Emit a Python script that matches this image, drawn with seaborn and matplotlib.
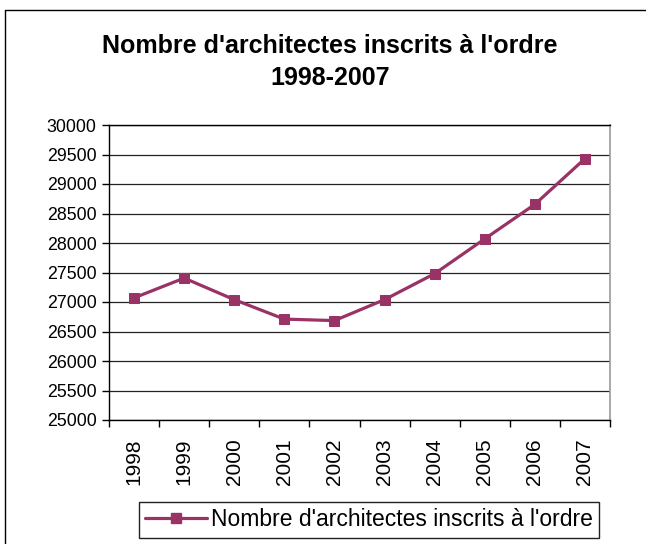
import matplotlib
matplotlib.use("Agg")
import matplotlib.pyplot as plt
import seaborn as sns
import pandas as pd
from matplotlib.lines import Line2D

years = ["1998", "1999", "2000", "2001", "2002", "2003", "2004", "2005", "2006", "2007"]
inscrits = [27070, 27405, 27040, 26710, 26685, 27040, 27480, 28070, 28655, 29430]
series_name = "Nombre d'architectes inscrits à l'ordre"
title = "Nombre d'architectes inscrits à l'ordre\n1998-2007"
yticks = [25000, 25500, 26000, 26500, 27000, 27500, 28000, 28500, 29000, 29500, 30000]

sns.set_style("white")
plt.rcParams['font.family'] = ['Liberation Sans', 'DejaVu Sans']
plt.rcParams['text.color'] = 'black'
plt.rcParams['xtick.color'] = 'black'
plt.rcParams['ytick.color'] = 'black'
plt.rcParams['xtick.labelcolor'] = 'black'
plt.rcParams['ytick.labelcolor'] = 'black'

df = pd.DataFrame({"year": years, "value": inscrits})
color = "#993366"

fig = plt.figure(figsize=(6.46, 5.44), dpi=100)
ax = fig.add_axes([109/646, 1-420/544, (610-109)/646, (420-125)/544])

sns.lineplot(data=df, x="year", y="value", ax=ax, color=color, linewidth=2.3,
             marker="s", markersize=7, markeredgecolor=color, label=series_name)

ax.set_xlim(-0.5, len(years) - 0.5)
ax.set_ylim(25000, 30000)
ax.set_yticks(yticks)
ax.set_yticklabels([str(v) for v in yticks], fontsize=12.8, color="black")
ax.set_xticks(range(len(years)))
ax.set_xticklabels(years, rotation=90, fontsize=15, color="black")
ax.set_xticks([i - 0.5 for i in range(len(years) + 1)], minor=True)
ax.tick_params(axis="x", which="major", length=0, pad=13)
ax.tick_params(axis="x", which="minor", length=5, color="black", width=1, direction="out", bottom=True)
ax.tick_params(axis="y", length=5, color="black", width=1, direction="out", left=True, pad=4)
ax.set_xlabel("")
ax.set_ylabel("")
ax.yaxis.grid(True, color="#222222", linewidth=0.9)
ax.set_axisbelow(True)
for s in ["left", "bottom", "top"]:
    ax.spines[s].set_color("black")
    ax.spines[s].set_linewidth(1)
ax.spines["right"].set_color("#999999")
ax.spines["right"].set_linewidth(1.2)

ax.get_legend().remove()
handle = Line2D([0], [0], color=color, linewidth=2.3, marker="s", markersize=7)
leg = fig.legend([handle], [series_name], loc="center", bbox_to_anchor=(369/646, 1-520/544),
                 frameon=True, fancybox=False, edgecolor="#222222", fontsize=16.5,
                 handlelength=2.7, borderpad=0.3, handletextpad=0.15, framealpha=1,
                 borderaxespad=0, labelcolor="black")

fig.text(330/646, 1-62/544, title, ha="center", va="center", fontsize=18,
         fontweight="bold", linespacing=1.4, color="black")

fig.add_artist(Line2D([5/646, 5/646], [0, 1 - 10/544], transform=fig.transFigure,
                      color="black", linewidth=1))
fig.add_artist(Line2D([5/646, 1], [1 - 10/544, 1 - 10/544], transform=fig.transFigure,
                      color="black", linewidth=1))

fig.savefig("out.png", dpi=100)
